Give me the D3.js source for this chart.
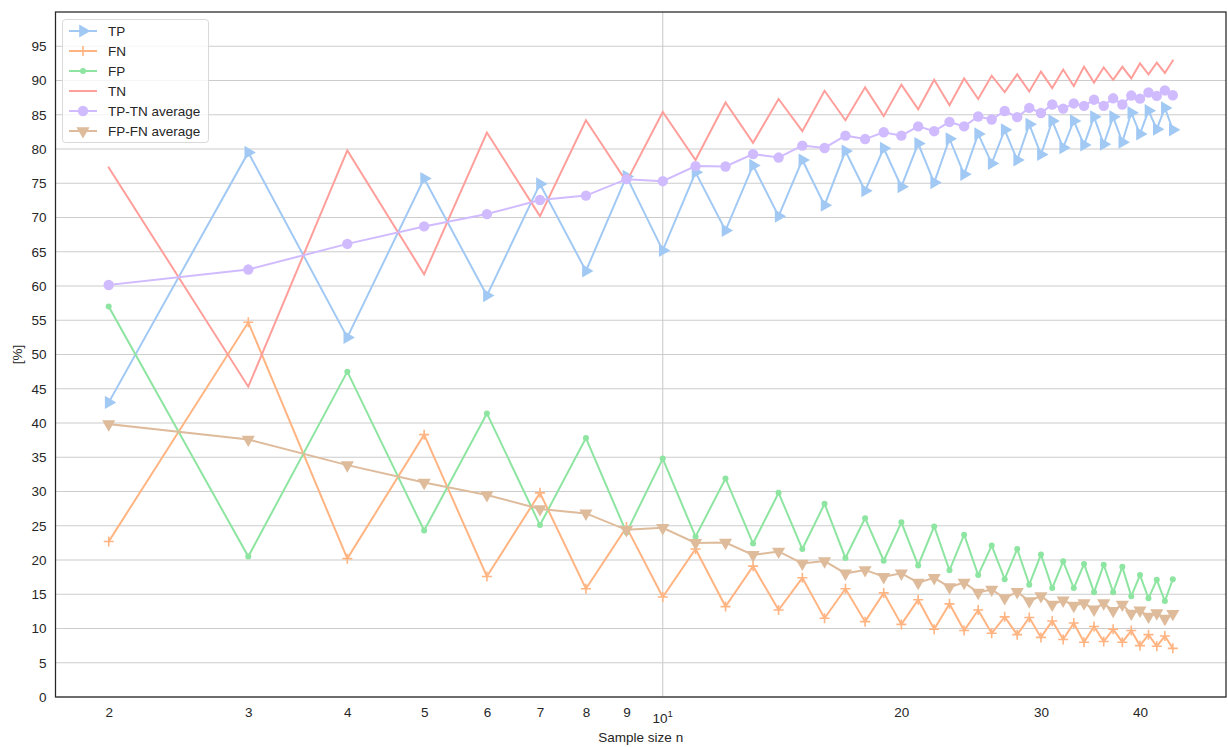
<!DOCTYPE html>
<html>
<head>
<meta charset="utf-8">
<script src="https://cdn.jsdelivr.net/npm/d3@7"></script>
<style>
  html, body { margin: 0; padding: 0; background: #fff; }
  svg { display: block; font-family: "Liberation Sans", Arial, sans-serif; }
</style>
</head>
<body>
<svg id="chart" width="1228" height="747"></svg>
<script>
const sampleSize = d3.range(2, 45);

const tp = [43.0, 79.5, 52.5, 75.7, 58.6, 74.9, 62.2, 76.0, 65.2, 76.6, 68.1, 77.6, 70.2, 78.4, 71.8, 79.7, 73.9, 80.1, 74.5, 80.8, 75.1, 81.5, 76.3, 82.2, 77.9, 82.8, 78.4, 83.6, 79.2, 84.1, 80.2, 84.1, 80.6, 84.7, 80.7, 84.7, 81.0, 85.3, 82.2, 85.6, 82.9, 86.0, 82.8];
const fn = [22.7, 54.7, 20.2, 38.3, 17.6, 29.8, 15.8, 24.8, 14.6, 21.6, 13.2, 19.1, 12.7, 17.4, 11.5, 15.8, 11.0, 15.2, 10.6, 14.2, 9.9, 13.6, 9.7, 12.7, 9.3, 11.7, 9.1, 11.6, 8.7, 11.1, 8.4, 10.8, 8.0, 10.3, 8.1, 9.9, 8.0, 9.7, 7.5, 9.1, 7.4, 8.9, 7.1];
const fp = [57.0, 20.5, 47.5, 24.3, 41.4, 25.1, 37.8, 24.0, 34.8, 23.4, 31.9, 22.4, 29.8, 21.6, 28.2, 20.3, 26.1, 19.9, 25.5, 19.2, 24.9, 18.5, 23.7, 17.8, 22.1, 17.2, 21.6, 16.4, 20.8, 15.9, 19.8, 15.9, 19.4, 15.3, 19.3, 15.3, 19.0, 14.7, 17.8, 14.4, 17.1, 14.0, 17.2];
const tn = [77.3, 45.3, 79.8, 61.7, 82.4, 70.2, 84.2, 75.2, 85.4, 78.4, 86.8, 80.9, 87.3, 82.6, 88.5, 84.2, 89.0, 84.8, 89.4, 85.8, 90.1, 86.4, 90.3, 87.3, 90.7, 88.3, 90.9, 88.4, 91.3, 88.9, 91.6, 89.2, 92.0, 89.7, 91.9, 90.1, 92.0, 90.3, 92.5, 90.9, 92.6, 91.1, 92.9];
const tpTnAvg = [60.15, 62.4, 66.15, 68.7, 70.5, 72.55, 73.2, 75.6, 75.3, 77.5, 77.45, 79.25, 78.75, 80.5, 80.15, 81.95, 81.45, 82.45, 81.95, 83.3, 82.6, 83.95, 83.3, 84.75, 84.3, 85.55, 84.65, 86.0, 85.25, 86.5, 85.9, 86.65, 86.3, 87.2, 86.3, 87.4, 86.5, 87.8, 87.35, 88.25, 87.75, 88.55, 87.85];
const fpFnAvg = [39.85, 37.6, 33.85, 31.3, 29.5, 27.45, 26.8, 24.4, 24.7, 22.5, 22.55, 20.75, 21.25, 19.5, 19.85, 18.05, 18.55, 17.55, 18.05, 16.7, 17.4, 16.05, 16.7, 15.25, 15.7, 14.45, 15.35, 14.0, 14.75, 13.5, 14.1, 13.35, 13.7, 12.8, 13.7, 12.6, 13.5, 12.2, 12.65, 11.75, 12.25, 11.45, 12.15];

const seriesNames = ["TP", "FN", "FP", "TN", "TP-TN average", "FP-FN average"];
const seriesValues = [tp, fn, fp, tn, tpTnAvg, fpFnAvg];
const seriesColors = ["#a1c9f4", "#ffb482", "#8de5a1", "#ff9f9b", "#d0bbff", "#debb9b"];
const seriesMarkers = ["triRight", "plus", "dot", "none", "circle", "triDown"];

const xTickValues = [2, 3, 4, 5, 6, 7, 8, 9, 10, 20, 30, 40];
const xMajorTicks = [10];
const yTickValues = d3.range(0, 100, 5);
const xLabel = "Sample size n";
const yLabel = "[%]";

const svg = d3.select("#chart");
const W = 1228, H = 747;
const plot = { left: 55.5, right: 1226, top: 12, bottom: 697 };

// log x with 5% margins in log space, as matplotlib autoscale
const lx = d3.extent(sampleSize).map(Math.log10);
const pad = (lx[1] - lx[0]) * 0.05;
const x = d3.scaleLog()
  .domain([Math.pow(10, lx[0] - pad), Math.pow(10, lx[1] + pad)])
  .range([plot.left, plot.right]);
const y = d3.scaleLinear().domain([0, 100]).range([plot.bottom, plot.top]);

const textColor = "#262626";
const gridColor = "#cccccc";

// gridlines
const grid = svg.append("g");
grid.selectAll("line.hy").data(yTickValues).join("line")
  .attr("x1", plot.left).attr("x2", plot.right)
  .attr("y1", d => y(d)).attr("y2", d => y(d))
  .attr("stroke", gridColor).attr("stroke-width", 1.1);
grid.selectAll("line.vx").data(xMajorTicks).join("line")
  .attr("x1", d => x(d)).attr("x2", d => x(d))
  .attr("y1", plot.top).attr("y2", plot.bottom)
  .attr("stroke", gridColor).attr("stroke-width", 1.1);

// y tick labels
const yAxis = d3.axisLeft(y).tickValues(yTickValues).tickSize(0).tickPadding(9).tickFormat(d3.format("d"));
const gy = svg.append("g").attr("transform", `translate(${plot.left},0)`).call(yAxis);
gy.select(".domain").remove();
gy.selectAll("text").attr("fill", textColor).attr("font-size", 13.5)
  .attr("font-family", "Liberation Sans, Arial, sans-serif");

// x tick labels
const xAxis = d3.axisBottom(x).tickValues(xTickValues).tickSize(0).tickPadding(10)
  .tickFormat(d => d === 10 ? "" : d3.format("d")(d));
const gx = svg.append("g").attr("transform", `translate(0,${plot.bottom})`).call(xAxis);
gx.select(".domain").remove();
gx.selectAll("text").attr("fill", textColor).attr("font-size", 13.5)
  .attr("font-family", "Liberation Sans, Arial, sans-serif");
// 10^1 label
const tenLbl = svg.append("text")
  .attr("x", x(10)).attr("y", plot.bottom + 26)
  .attr("text-anchor", "middle").attr("fill", textColor)
  .attr("font-size", 13.5);
tenLbl.append("tspan").text("10");
tenLbl.append("tspan").attr("dy", -6).attr("font-size", 9.5).text("1");

// axis labels
svg.append("text").attr("x", (plot.left + plot.right) / 2 + 0).attr("y", 742)
  .attr("text-anchor", "middle").attr("fill", textColor).attr("font-size", 13.5)
  .text(xLabel);
svg.append("text").attr("transform", `translate(22,${(plot.top + plot.bottom) / 2}) rotate(-90)`)
  .attr("text-anchor", "middle").attr("fill", textColor).attr("font-size", 13.5)
  .text(yLabel);

// marker drawing
function drawMarker(g, type, color) {
  if (type === "triRight") {
    g.append("path").attr("d", d3.symbol(d3.symbolTriangle, 75)()).attr("transform", "rotate(90)").attr("fill", color);
  } else if (type === "triDown") {
    g.append("path").attr("d", d3.symbol(d3.symbolTriangle, 75)()).attr("transform", "rotate(180)").attr("fill", color);
  } else if (type === "circle") {
    g.append("circle").attr("r", 5.2).attr("fill", color);
  } else if (type === "dot") {
    g.append("circle").attr("r", 3).attr("fill", color);
  } else if (type === "plus") {
    g.append("path").attr("d", "M-5,0H5M0,-5V5").attr("stroke", color).attr("stroke-width", 1.6).attr("fill", "none");
  }
}

const clipId = "plotclip";
svg.append("clipPath").attr("id", clipId).append("rect")
  .attr("x", plot.left).attr("y", plot.top).attr("width", plot.right - plot.left).attr("height", plot.bottom - plot.top);

const lineGen = d3.line().x(d => x(d[0])).y(d => y(d[1]));
const plotG = svg.append("g").attr("clip-path", `url(#${clipId})`);

seriesNames.forEach((name, i) => {
  const pts = sampleSize.map((n, j) => [n, seriesValues[i][j]]);
  const g = plotG.append("g");
  g.append("path").datum(pts).attr("d", lineGen)
    .attr("fill", "none").attr("stroke", seriesColors[i]).attr("stroke-width", 2)
    .attr("stroke-linejoin", "miter").attr("stroke-linecap", "square");
  if (seriesMarkers[i] !== "none") {
    g.selectAll("g.m").data(pts).join("g")
      .attr("transform", d => `translate(${x(d[0])},${y(d[1])})`)
      .each(function () { drawMarker(d3.select(this), seriesMarkers[i], seriesColors[i]); });
  }
});

// frame
svg.append("rect").attr("x", plot.left).attr("y", plot.top)
  .attr("width", plot.right - plot.left).attr("height", plot.bottom - plot.top)
  .attr("fill", "none").attr("stroke", "#262626").attr("stroke-width", 1.25);

// legend
const leg = svg.append("g").attr("transform", "translate(62,19)");
leg.append("rect").attr("x", 0.5).attr("y", 0.5).attr("width", 146).attr("height", 123).attr("rx", 3)
  .attr("fill", "#fff").attr("fill-opacity", 0.8).attr("stroke", "#d9d9d9").attr("stroke-width", 1);
seriesNames.forEach((name, i) => {
  const yy = 12 + i * 20;
  const item = leg.append("g").attr("transform", `translate(0,${yy})`);
  item.append("line").attr("x1", 7).attr("x2", 35).attr("y1", 0).attr("y2", 0)
    .attr("stroke", seriesColors[i]).attr("stroke-width", 2);
  if (seriesMarkers[i] !== "none") {
    const mg = item.append("g").attr("transform", "translate(21,0)");
    drawMarker(mg, seriesMarkers[i], seriesColors[i]);
  }
  item.append("text").attr("x", 46).attr("y", 0).attr("dy", "0.35em")
    .attr("fill", textColor).attr("font-size", 13.5).text(name);
});
</script>
</body>
</html>
